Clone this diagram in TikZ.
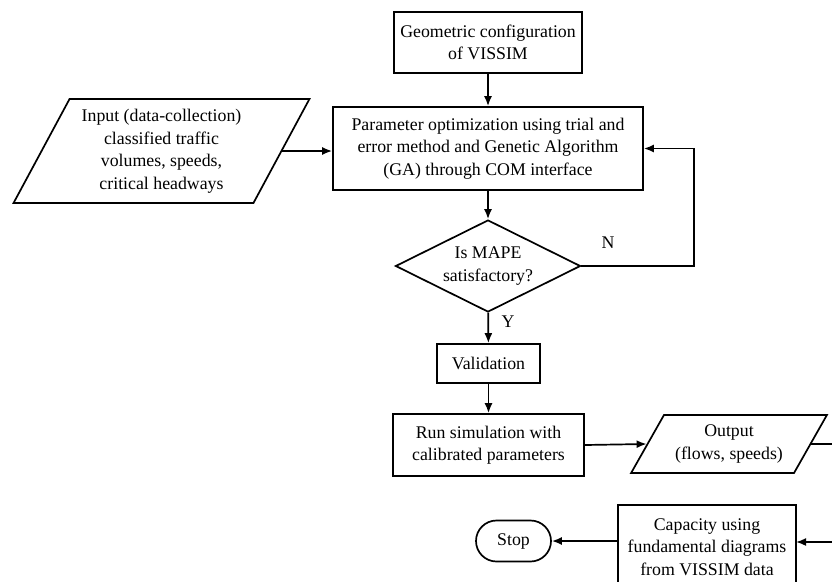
\documentclass[tikz,border=0pt]{standalone}
\usepackage{fontspec}
\setmainfont{Liberation Serif}
\usetikzlibrary{shapes.geometric,shapes.misc,arrows.meta}
\begin{document}
\begin{tikzpicture}[x=1pt,y=-1pt,
  every node/.style={font=\fontsize{17.8}{22.5}\selectfont, align=center, inner sep=2pt},
  box/.style={draw, line width=1.7pt, rectangle},
  io/.style={draw, line width=1.7pt, trapezium, trapezium stretches=true},
  decision/.style={draw, line width=1.7pt, diamond, aspect=2, inner sep=0pt},
  term/.style={draw, line width=1.7pt, rounded rectangle},
  conn/.style={line width=1.7pt, -{Latex[length=10pt,width=8pt]}},
  plain/.style={line width=1.7pt}]
\useasboundingbox (0,0) rectangle (832,581);

\node[box, minimum width=188pt, minimum height=61pt] (geo) at (488,42.5) {Geometric configuration\\of VISSIM};
\node[box, minimum width=310pt, minimum height=83pt] (param) at (488,148.5) {Parameter optimization using trial and\\error method and Genetic Algorithm\\(GA) through COM interface};
\node[io, trapezium left angle=60.4, trapezium right angle=119.6, minimum width=297pt, minimum height=104pt] (in) at (161.5,151) {Input (data-collection)\\classified traffic\\volumes, speeds,\\critical\ headways};
\node[decision, minimum width=185pt, minimum height=92pt] (dia) at (488,266) {Is MAPE\\satisfactory?};
\node[box, minimum width=103pt, minimum height=39pt] (val) at (488.5,363.5) {Validation};
\node[box, minimum width=191pt, minimum height=62pt] (run) at (488.5,445) {Run simulation with\\calibrated parameters};
\node[io, trapezium left angle=56.1, trapezium right angle=123.9, minimum width=196pt, minimum height=58pt] (out) at (729,444) {Output\\(flows, speeds)};
\node[box, minimum width=178pt, minimum height=84pt] (cap) at (707,547) {Capacity using\\fundamental diagrams\\from VISSIM data};
\node[term, minimum width=79pt, minimum height=41pt] (stop) at (513.5,541) {Stop};

\node (nlab) at (608,243) {N};
\node (ylab) at (508,322) {Y};

\coordinate (fbR) at (694,266);
\coordinate (outR) at (840,444);
\coordinate (capR) at (840,542);
\coordinate (capIn) at (796,542);
\coordinate (capOut) at (618,541);

\draw[conn] (geo) -- (param);
\draw[conn] (in.right side) -- (in.right side -| param.west);
\draw[conn] (param) -- (dia);
\draw[conn] (dia.east) -- (fbR) |- (param.east);
\draw[conn] (dia) -- (val);
\draw[conn] (val) -- (run);
\draw[conn] (run.east) -- (out.left side);
\draw[conn] (out.right side) -- (outR) -- (capR) -- (capIn);
\draw[conn] (capOut) -- (capOut -| stop.east);
\end{tikzpicture}
\end{document}
